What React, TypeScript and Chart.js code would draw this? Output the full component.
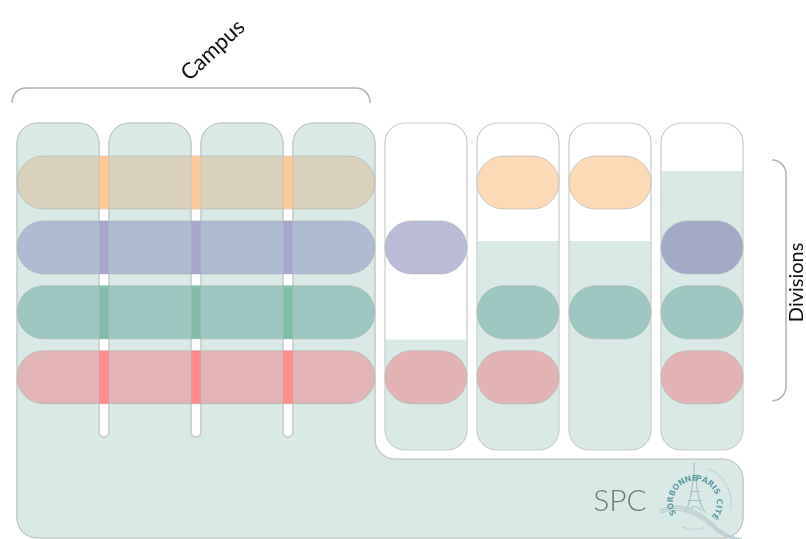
import React, { useEffect, useRef } from "react";
import { Chart, registerables } from "chart.js";
Chart.register(...registerables);

// ---------------- data ----------------
const groupLabels = ["Campus", "Divisions", "SPC"];
const logoWords = ["SORBONNE", "PARIS", "CITÉ"];
const rowNames = ["Orange", "Blue", "Green", "Red"];
const campusColumns = ["C1", "C2", "C3", "C4"];
const divisionColumns = ["D1", "D2", "D3", "D4"];
// which rows each division belongs to (1 = member)
const divisionMembership = [
  [0, 1, 0, 1],
  [1, 0, 1, 1],
  [1, 0, 1, 0],
  [0, 1, 1, 1],
];
// level (row units) where the shared SPC fill starts in each division
const divisionFillLevel = [2.83, 1.31, 1.31, 0.23];
// angular centre (degrees) of each logo word
const logoWordAngles = [212, 306, 376];

// ---------------- styles ----------------
const baseFill = "#d9e9e6";
const outline = "#c9cccb";
const campusRowColors = ["#d9d1bb", "#adbcd3", "#9dc8c2", "#e3b4b5"];
const gapRowColors = ["#ffc899", "#a6a7cf", "#80bea9", "#ff8b8b"];
const divRowColorsWhite = ["#fdd9b5", "#b9bbd7", "#a8d0ca", "#efbcbc"];
const divRowColorsFill = ["#e6d4bb", "#a3aac8", "#9dc8c2", "#e3b3b4"];

// layout in scale units (x: one column pitch, y: one row pitch)
const colW = 82 / 92;
const rowH = 53 / 64.9;
const colTop = -0.5085;
const gapBottom = 4.33;
const divBottom = 4.53;
const spcTop = 4.669;
const baseBottom = 5.886;

function roundRectPath(ctx: CanvasRenderingContext2D, x: number, y: number, w: number, h: number, r: number) {
  r = Math.min(r, w / 2, h / 2);
  ctx.beginPath();
  ctx.moveTo(x + r, y);
  ctx.lineTo(x + w - r, y);
  ctx.arcTo(x + w, y, x + w, y + r, r);
  ctx.lineTo(x + w, y + h - r);
  ctx.arcTo(x + w, y + h, x + w - r, y + h, r);
  ctx.lineTo(x + r, y + h);
  ctx.arcTo(x, y + h, x, y + h - r, r);
  ctx.lineTo(x, y + r);
  ctx.arcTo(x, y, x + r, y, r);
  ctx.closePath();
}

function arcTextCentered(ctx: CanvasRenderingContext2D, text: string, cx: number, cy: number, r: number, centerDeg: number, spacing: number) {
  const widths = Array.from(text).map((ch) => ctx.measureText(ch).width + spacing);
  const total = widths.reduce((a, b) => a + b, 0) - spacing;
  let a = (centerDeg * Math.PI) / 180 - total / 2 / r;
  Array.from(text).forEach((ch, i) => {
    const mid = a + (widths[i] - spacing) / 2 / r;
    ctx.save();
    ctx.translate(cx + r * Math.cos(mid), cy + r * Math.sin(mid));
    ctx.rotate(mid + Math.PI / 2);
    ctx.fillText(ch, 0, 0);
    ctx.restore();
    a += widths[i] / r;
  });
}

const diagramPlugin = {
  id: "diagram",
  afterDraw(chart: any) {
    const ctx: CanvasRenderingContext2D = chart.ctx;
    const sx = (v: number) => chart.scales.x.getPixelForValue(v);
    const sy = (v: number) => chart.scales.y.getPixelForValue(v);
    const r = 20;
    const gr = (sx(1) - sx(colW)) / 2;
    const L = sx(0);
    const top = sy(colTop);
    const bottom = sy(baseBottom);
    const R = sx(campusColumns.length + divisionColumns.length - 1 + colW);
    const campR = sx(campusColumns.length - 1 + colW);
    const spcT = sy(spcTop);
    const gapB = sy(gapBottom);

    ctx.save();
    // ---- base SPC / campus shape ----
    const basePath = () => {
      ctx.beginPath();
      ctx.moveTo(L, bottom - r);
      ctx.lineTo(L, top + r);
      campusColumns.forEach((_, i) => {
        const cl = sx(i);
        const cr = sx(i + colW);
        ctx.arcTo(cl, top, cl + r, top, r);
        ctx.lineTo(cr - r, top);
        ctx.arcTo(cr, top, cr, top + r, r);
        if (i < campusColumns.length - 1) {
          ctx.lineTo(cr, gapB - gr);
          ctx.arc(cr + gr, gapB - gr, gr, Math.PI, 0, true);
          ctx.lineTo(sx(i + 1), top + r);
        }
      });
      ctx.lineTo(campR, spcT - r);
      ctx.arcTo(campR, spcT, campR + r, spcT, r);
      ctx.lineTo(R - r, spcT);
      ctx.arcTo(R, spcT, R, spcT + r, r);
      ctx.lineTo(R, bottom - r);
      ctx.arcTo(R, bottom, R - r, bottom, r);
      ctx.lineTo(L + r, bottom);
      ctx.arcTo(L, bottom, L, bottom - r, r);
      ctx.closePath();
    };
    basePath();
    ctx.fillStyle = baseFill;
    ctx.fill();
    ctx.strokeStyle = outline;
    ctx.lineWidth = 1.2;
    ctx.stroke();

    // ---- campus pills ----
    rowNames.forEach((_, k) => {
      const y0 = sy(k);
      const h = sy(k + rowH) - y0;
      roundRectPath(ctx, L, y0, campR - L, h, h / 2);
      ctx.fillStyle = campusRowColors[k];
      ctx.fill();
      ctx.strokeStyle = "rgba(150,170,168,0.45)";
      ctx.lineWidth = 1;
      ctx.stroke();
      for (let i = 0; i < campusColumns.length - 1; i++) {
        const gx = sx(i + colW);
        ctx.fillStyle = gapRowColors[k];
        ctx.fillRect(gx, y0, sx(i + 1) - gx, h);
      }
    });
    // column edges over pills
    basePath();
    ctx.strokeStyle = "rgba(180,190,188,0.55)";
    ctx.lineWidth = 1;
    ctx.stroke();

    // ---- division columns ----
    divisionColumns.forEach((_, j) => {
      const x0 = sx(campusColumns.length + j);
      const x1 = sx(campusColumns.length + j + colW);
      const yb = sy(divBottom);
      roundRectPath(ctx, x0, top, x1 - x0, yb - top, r);
      ctx.fillStyle = "#ffffff";
      ctx.fill();
      ctx.save();
      ctx.clip();
      const fy = sy(divisionFillLevel[j]);
      ctx.fillStyle = baseFill;
      ctx.fillRect(x0, fy, x1 - x0, yb - fy + 2);
      ctx.restore();
      roundRectPath(ctx, x0, top, x1 - x0, yb - top, r);
      ctx.strokeStyle = outline;
      ctx.lineWidth = 1.2;
      ctx.stroke();

      rowNames.forEach((__, k) => {
        if (!divisionMembership[j][k]) return;
        const y0 = sy(k);
        const h = sy(k + rowH) - y0;
        roundRectPath(ctx, x0, y0, x1 - x0, h, h / 2);
        ctx.fillStyle = k >= divisionFillLevel[j] ? divRowColorsFill[k] : divRowColorsWhite[k];
        ctx.fill();
        ctx.strokeStyle = "rgba(170,180,178,0.6)";
        ctx.lineWidth = 1;
        ctx.stroke();
      });
    });

    // ---- Campus bracket ----
    const bl = L - 5;
    const br = campR - 5;
    const bt = top - 35;
    const bb = top - 20;
    const rb = 14;
    ctx.beginPath();
    ctx.moveTo(bl, bb);
    ctx.lineTo(bl, bt + rb);
    ctx.arcTo(bl, bt, bl + rb, bt, rb);
    ctx.lineTo(br - rb, bt);
    ctx.arcTo(br, bt, br, bt + rb, rb);
    ctx.lineTo(br, bb);
    ctx.strokeStyle = "#b3b3b3";
    ctx.lineWidth = 1.5;
    ctx.stroke();

    // ---- Divisions bracket ----
    const dx0 = R + 29;
    const dx1 = R + 43;
    const dt = sy(0) + 4;
    const db = sy(rowNames.length - 1 + rowH) - 3;
    ctx.beginPath();
    ctx.moveTo(dx0, dt);
    ctx.arcTo(dx1, dt, dx1, dt + rb, rb);
    ctx.lineTo(dx1, db - rb);
    ctx.arcTo(dx1, db, dx0, db, rb);
    ctx.stroke();

    // ---- labels ----
    ctx.fillStyle = "#111111";
    ctx.textAlign = "center";
    ctx.textBaseline = "middle";
    ctx.font = "22px Lato, 'Open Sans', sans-serif";
    ctx.save();
    ctx.translate(L + 196, top - 73);
    ctx.rotate((-43 * Math.PI) / 180);
    ctx.fillText(groupLabels[0], 0, 0);
    ctx.restore();

    ctx.font = "20px Lato, 'Open Sans', sans-serif";
    ctx.save();
    ctx.translate(R + 54, (dt + db) / 2 + 2);
    ctx.rotate(-Math.PI / 2);
    ctx.fillText(groupLabels[1], 0, 0);
    ctx.restore();

    ctx.fillStyle = "#6d7979";
    ctx.font = "300 30px Lato, 'Open Sans', sans-serif";
    ctx.fillText(groupLabels[2], R - 123, (spcT + bottom) / 2 + 3);

    // ---- logo ----
    const cx = R - 48;
    const cy = (spcT + bottom) / 2 + 4;
    // tower
    ctx.strokeStyle = "#a9c3c5";
    ctx.lineWidth = 1.2;
    ctx.beginPath();
    ctx.moveTo(cx - 1, cy - 40);
    ctx.lineTo(cx - 1, cy - 27);
    ctx.moveTo(cx - 2, cy - 27);
    ctx.quadraticCurveTo(cx - 3, cy - 2, cx - 10, cy + 10);
    ctx.moveTo(cx + 1, cy - 27);
    ctx.quadraticCurveTo(cx + 2, cy - 2, cx + 10, cy + 10);
    ctx.moveTo(cx - 5, cy - 11);
    ctx.lineTo(cx + 5, cy - 11);
    ctx.moveTo(cx - 7, cy - 2);
    ctx.lineTo(cx + 7, cy - 2);
    ctx.moveTo(cx - 6, cy + 8);
    ctx.quadraticCurveTo(cx, cy, cx + 6, cy + 8);
    ctx.stroke();
    // river swoosh
    ctx.strokeStyle = "#b9cfd0";
    ctx.lineWidth = 1.2;
    for (let s = 0; s < 3; s++) {
      ctx.beginPath();
      ctx.moveTo(cx - 35, cy + 7 + s * 2);
      ctx.quadraticCurveTo(cx - 8, cy - 5 + s * 2, cx + 22, cy + 25 + s * 2);
      ctx.quadraticCurveTo(cx + 35, cy + 36 + s, cx + 47, cy + 36 + s);
      ctx.stroke();
    }
    // outer tiny text ring (dotted)
    ctx.strokeStyle = "#a9c6c9";
    ctx.lineWidth = 1.8;
    ctx.setLineDash([1, 1.5]);
    ctx.beginPath();
    ctx.arc(cx, cy, 36, (292 * Math.PI) / 180, (370 * Math.PI) / 180);
    ctx.stroke();
    ctx.beginPath();
    ctx.arc(cx, cy, 27, (72 * Math.PI) / 180, (118 * Math.PI) / 180);
    ctx.stroke();
    ctx.setLineDash([]);
    // main circular text
    ctx.fillStyle = "#5f9ea6";
    ctx.font = "bold 8px 'DejaVu Sans', sans-serif";
    logoWords.forEach((w, i) => arcTextCentered(ctx, w, cx, cy, 24, logoWordAngles[i], 0.4));
    ctx.restore();
  },
};

export default function App() {
  const ref = useRef<HTMLCanvasElement | null>(null);
  useEffect(() => {
    document.body.style.margin = "0";
    const canvas = ref.current;
    if (!canvas) return;
    const chart = new Chart(canvas, {
      type: "scatter",
      data: { datasets: [{ data: [] }] },
      options: {
        responsive: false,
        animation: false,
        events: [],
        layout: { padding: 0 },
        plugins: { legend: { display: false }, tooltip: { enabled: false } },
        scales: {
          x: { type: "linear", display: false, min: -17 / 92, max: 789 / 92 },
          y: { type: "linear", display: false, min: -156 / 64.9, max: 383 / 64.9, reverse: true },
        },
      },
      plugins: [diagramPlugin],
    } as any);
    return () => chart.destroy();
  }, []);
  return (
    <div style={{ width: 806, height: 539 }}>
      <canvas ref={ref} width={806} height={539} style={{ display: "block" }} />
    </div>
  );
}
